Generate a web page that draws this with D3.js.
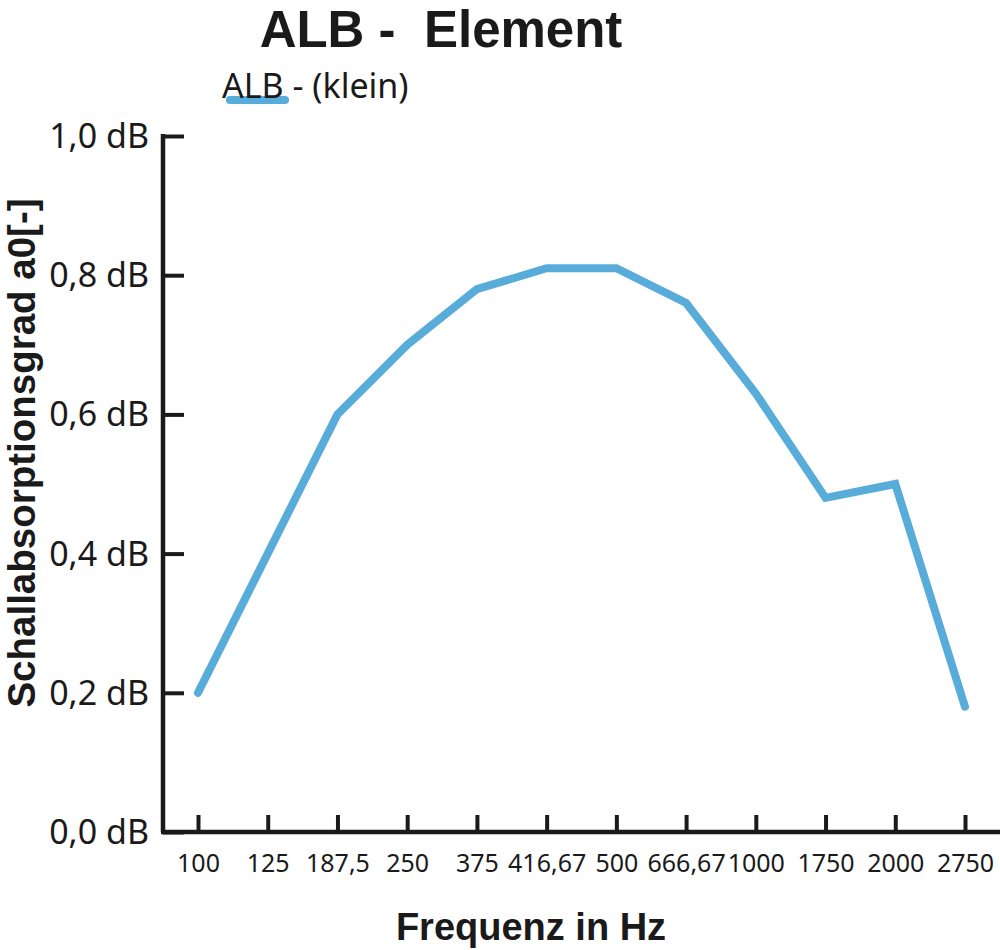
<!DOCTYPE html>
<html>
<head>
<meta charset="utf-8">
<script src="https://cdn.jsdelivr.net/npm/d3@7"></script>
<style>
  html, body { margin: 0; padding: 0; background: #fff; }
  svg { display: block; }
</style>
</head>
<body>
<svg id="chart" width="1000" height="950"></svg>
<script>
// frequency bands (x categories) and absorption values
const FREQUENCIES = ['100', '125', '187,5', '250', '375', '416,67', '500', '666,67', '1000', '1750', '2000', '2750'];
const ALB_KLEIN   = [0.20, 0.40, 0.60, 0.70, 0.78, 0.81, 0.81, 0.76, 0.63, 0.48, 0.50, 0.18];
const Y_TICKS     = [0, 0.2, 0.4, 0.6, 0.8, 1.0];

const TITLE        = 'ALB -  Element';
const SERIES_NAME  = 'ALB - (klein)';
const X_TITLE      = 'Frequenz in Hz';
const Y_TITLE      = 'Schallabsorptionsgrad a0[-]';

const LINE_COLOR   = '#58acd9';
const INK          = '#1a1a1a';
const BOLD_FONT    = '"Liberation Sans", Arial, sans-serif';
const TEXT_FONT    = '"Noto Sans", "Open Sans", sans-serif';

const AXIS_X       = 163;   // left edge of plot (y axis)
const AXIS_Y       = 832;   // bottom of plot (x axis)
const TOP_Y        = 136;

const svg = d3.select('#chart');

let x = d3.scalePoint()
    .domain(FREQUENCIES)
    .range([198, 965]);

let y = d3.scaleLinear()
    .domain([0, 1])
    .range([AXIS_Y, TOP_Y]);

// title (keeps the double space)
svg.append('text')
    .attr('x', 441)
    .attr('y', 47)
    .attr('text-anchor', 'middle')
    .style('white-space', 'pre')
    .style('font-family', BOLD_FONT)
    .style('font-weight', 'bold')
    .style('font-size', '51px')
    .style('fill', INK)
    .text(TITLE);

// legend: swatch first, label drawn over it
svg.append('line')
    .attr('x1', 230).attr('x2', 285)
    .attr('y1', 100).attr('y2', 100)
    .style('stroke', LINE_COLOR)
    .style('stroke-width', 8)
    .style('stroke-linecap', 'round');

svg.append('text')
    .attr('x', 222)
    .attr('y', 98)
    .style('font-family', TEXT_FONT)
    .style('font-size', '34px')
    .style('fill', INK)
    .text(SERIES_NAME);

// y axis, ticks pointing inward
let yAxis = svg.append('g')
    .attr('transform', `translate(${AXIS_X},0)`)
    .call(d3.axisRight(y)
        .tickValues(Y_TICKS)
        .tickSize(21)
        .tickFormat(d => d3.format('.1f')(d).replace('.', ',') + ' dB'));

yAxis.select('.domain')
    .attr('d', `M0,${TOP_Y - 2}V${AXIS_Y}`)
    .style('stroke', INK)
    .style('stroke-width', 4.5);

yAxis.selectAll('.tick line')
    .style('stroke', INK)
    .style('stroke-width', 4);

yAxis.selectAll('.tick text')
    .attr('x', -14)
    .attr('dy', '0.34em')
    .attr('text-anchor', 'end')
    .style('font-family', TEXT_FONT)
    .style('font-size', '34px')
    .style('fill', INK);

// x axis, ticks pointing up into the plot
let xAxis = svg.append('g')
    .attr('transform', `translate(0,${AXIS_Y})`)
    .call(d3.axisTop(x).tickSize(17));

xAxis.select('.domain')
    .attr('d', `M${AXIS_X - 2},0H1000`)
    .style('stroke', INK)
    .style('stroke-width', 4.5);

xAxis.selectAll('.tick line')
    .style('stroke', INK)
    .style('stroke-width', 4);

xAxis.selectAll('.tick text')
    .attr('y', 40)
    .attr('dy', 0)
    .style('font-family', TEXT_FONT)
    .style('font-size', '25px')
    .style('fill', INK);

// axis titles
svg.append('text')
    .attr('x', 531)
    .attr('y', 940)
    .attr('text-anchor', 'middle')
    .style('font-family', BOLD_FONT)
    .style('font-weight', 'bold')
    .style('font-size', '38px')
    .style('fill', INK)
    .text(X_TITLE);

svg.append('text')
    .attr('transform', 'translate(35,453) rotate(-90)')
    .attr('text-anchor', 'middle')
    .style('font-family', BOLD_FONT)
    .style('font-weight', 'bold')
    .style('font-size', '38.5px')
    .style('fill', INK)
    .text(Y_TITLE);

// series line
let line = d3.line()
    .x((d, i) => x(FREQUENCIES[i]))
    .y(d => y(d));

svg.append('path')
    .datum(ALB_KLEIN)
    .attr('d', line)
    .style('fill', 'none')
    .style('stroke', LINE_COLOR)
    .style('stroke-width', 8)
    .style('stroke-linejoin', 'miter')
    .style('stroke-linecap', 'round');
</script>
</body>
</html>
